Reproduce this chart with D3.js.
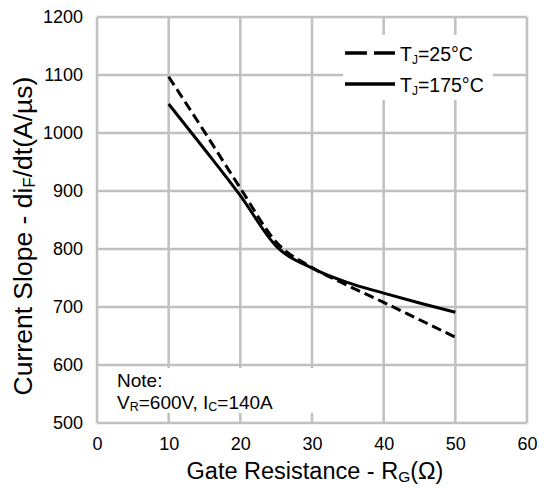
<!DOCTYPE html>
<html>
<head>
<meta charset="utf-8">
<script src="https://cdn.jsdelivr.net/npm/d3@7"></script>
<style>
  body { margin: 0; background: #fff; }
  text { font-family: "Liberation Sans", Arial, sans-serif; fill: #000; }
</style>
</head>
<body>
<script>
// данные
const rg = [10, 15, 20, 25, 30, 35, 40, 45, 50];
const tj25 = [1097, 1002, 905, 812, 768, 737, 708, 678, 648];
const tj175 = [1050, 972, 892, 805, 767, 742, 724, 707, 691];
const xTicks = [0, 10, 20, 30, 40, 50, 60];
const yTicks = [500, 600, 700, 800, 900, 1000, 1100, 1200];

const width = 547, height = 488;
const margin = {left: 97, right: 20, top: 17, bottom: 65};
const font = '"Liberation Sans", Arial, sans-serif';

const svg = d3.select('body').append('svg')
   .attr('width', width)
   .attr('height', height);

const x = d3.scaleLinear().domain([0, 60]).range([margin.left, width - margin.right]);
const y = d3.scaleLinear().domain([500, 1200]).range([height - margin.bottom, margin.top]);

const grid = '#c0c0c0';
// сетка
svg.append('g').selectAll('line')
   .data(xTicks)
   .enter().append('line')
   .attr('x1', d => x(d)).attr('x2', d => x(d))
   .attr('y1', y(500)).attr('y2', y(1200))
   .attr('stroke', grid).attr('stroke-width', 2.5);
svg.append('g').selectAll('line')
   .data(yTicks)
   .enter().append('line')
   .attr('x1', x(0)).attr('x2', x(60))
   .attr('y1', d => y(d)).attr('y2', d => y(d))
   .attr('stroke', grid).attr('stroke-width', 2.5);

// подписи делений
const xAxis = d3.axisBottom(x).tickValues(xTicks).tickFormat(d3.format('d')).tickSize(0).tickPadding(14);
svg.append('g').attr('transform', 'translate(0,' + y(500) + ')').call(xAxis)
   .call(g => g.select('.domain').remove())
   .selectAll('text').style('font-size', '18px').style('font-family', font).attr('fill', '#000');
const yAxis = d3.axisLeft(y).tickValues(yTicks).tickFormat(d3.format('d')).tickSize(0).tickPadding(14);
svg.append('g').attr('transform', 'translate(' + x(0) + ',0)').call(yAxis)
   .call(g => g.select('.domain').remove())
   .selectAll('text').style('font-size', '18px').style('font-family', font).attr('fill', '#000');

// белые подложки легенды и примечания
svg.append('rect').attr('x', 343).attr('y', 35).attr('width', 150).attr('height', 65).attr('fill', '#fff');
svg.append('rect').attr('x', 100).attr('y', 368).attr('width', 220).attr('height', 45).attr('fill', '#fff');

// кривые
const line = d3.line().curve(d3.curveMonotoneX)
   .x(d => x(d[0])).y(d => y(d[1]));
svg.append('path')
   .datum(rg.map((r, i) => [r, tj25[i]]))
   .attr('d', line).attr('fill', 'none')
   .attr('stroke', '#000').attr('stroke-width', 3)
   .attr('stroke-dasharray', '10,5');
svg.append('path')
   .datum(rg.map((r, i) => [r, tj175[i]]))
   .attr('d', line).attr('fill', 'none')
   .attr('stroke', '#000').attr('stroke-width', 3);

// легенда
const leg = [{label: '25°C', dash: '22,7', yy: 53}, {label: '175°C', dash: null, yy: 84}];
leg.forEach(l => {
   svg.append('line').attr('x1', 345).attr('x2', 395).attr('y1', l.yy).attr('y2', l.yy)
      .attr('stroke', '#000').attr('stroke-width', 3.5)
      .attr('stroke-dasharray', l.dash);
   const t = svg.append('text').attr('x', 400).attr('y', l.yy + 8).style('font-size', '19.5px');
   t.append('tspan').text('T');
   t.append('tspan').text('J').style('font-size', '12px').attr('dy', 3);
   t.append('tspan').text('=' + l.label).attr('dy', -3);
});

// примечание
svg.append('text').attr('x', 117).attr('y', 387).style('font-size', '19px').text('Note:');
const note = svg.append('text').attr('x', 117).attr('y', 409).style('font-size', '19px');
note.append('tspan').text('V');
note.append('tspan').text('R').style('font-size', '12.5px').attr('dy', 2);
note.append('tspan').text('=600V, I').attr('dy', -2);
note.append('tspan').text('C').style('font-size', '12.5px').attr('dy', 2);
note.append('tspan').text('=140A').attr('dy', -2);

// заголовки осей
const xt = svg.append('text').attr('x', 315).attr('y', 479).attr('text-anchor', 'middle').style('font-size', '23.5px');
xt.append('tspan').text('Gate Resistance - R');
xt.append('tspan').text('G').style('font-size', '15.5px').attr('dy', 3);
xt.append('tspan').text('(Ω)').attr('dy', -3);

const yt = svg.append('text').attr('transform', 'translate(32,236) rotate(-90)')
   .attr('text-anchor', 'middle').style('font-size', '26.5px');
yt.append('tspan').text('Current Slope - di');
yt.append('tspan').text('F').style('font-size', '17px').attr('dy', 3);
yt.append('tspan').text('/dt(A/µs)').attr('dy', -3);
</script>
</body>
</html>
